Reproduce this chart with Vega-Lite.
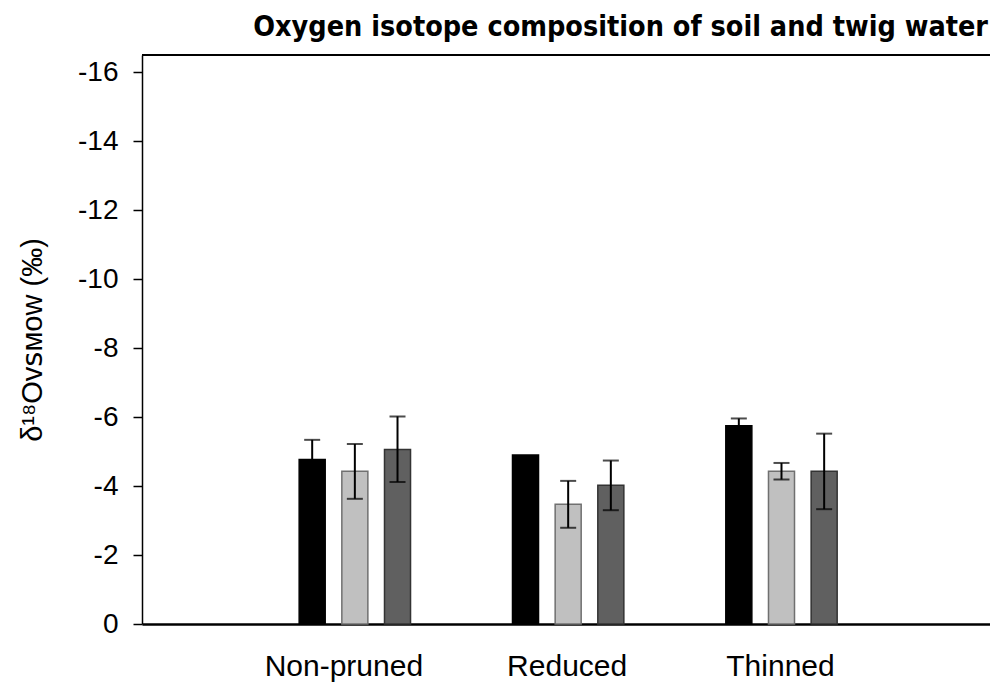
{
  "$schema": "https://vega.github.io/schema/vega-lite/v6.json",
  "autosize": {"type": "none"},
  "padding": {"left": 142, "top": 55, "right": 0, "bottom": 59},
  "width": 848,
  "height": 569,
  "background": "white",
  "config": {
    "view": {"stroke": null},
    "font": "Liberation Sans, Arial, DejaVu Sans"
  },
  "title": {
    "text": "Oxygen isotope composition of soil and twig water",
    "anchor": "end",
    "font": "Liberation Sans Narrow, DejaVu Sans Condensed, Liberation Sans",
    "fontSize": 28.5,
    "fontWeight": "bold",
    "color": "black",
    "baseline": "alphabetic",
    "offset": 22,
    "dy": 32,
    "dx": -3
  },
  "data": {
    "values": [
      {"treatment": "Non-pruned", "series": "Series 1", "value": -4.77, "lo": -4.20, "hi": -5.34},
      {"treatment": "Non-pruned", "series": "Series 2", "value": -4.43, "lo": -3.63, "hi": -5.22},
      {"treatment": "Non-pruned", "series": "Series 3", "value": -5.06, "lo": -4.12, "hi": -6.02},
      {"treatment": "Reduced", "series": "Series 1", "value": -4.90, "lo": null, "hi": null},
      {"treatment": "Reduced", "series": "Series 2", "value": -3.47, "lo": -2.79, "hi": -4.15},
      {"treatment": "Reduced", "series": "Series 3", "value": -4.02, "lo": -3.30, "hi": -4.74},
      {"treatment": "Thinned", "series": "Series 1", "value": -5.75, "lo": -5.54, "hi": -5.96},
      {"treatment": "Thinned", "series": "Series 2", "value": -4.43, "lo": -4.19, "hi": -4.67},
      {"treatment": "Thinned", "series": "Series 3", "value": -4.43, "lo": -3.33, "hi": -5.52}
    ]
  },
  "layer": [
    {
      "mark": {"type": "bar", "strokeWidth": 1.5},
      "encoding": {
        "x": {
          "field": "treatment",
          "type": "nominal",
          "sort": ["Non-pruned", "Reduced", "Thinned"],
          "scale": {"paddingInner": 0.478, "paddingOuter": 0.7266, "align": 0.507},
          "axis": {
            "title": null,
            "labelAngle": 0,
            "labelFontSize": 30,
            "labelColor": "black",
            "labelPadding": 27,
            "labelOffset": {"condition": {"test": "datum.value === 'Non-pruned'", "value": -11}, "value": -1},
            "ticks": false,
            "domainColor": "black",
            "domainWidth": 2.5
          }
        },
        "xOffset": {
          "field": "series",
          "type": "nominal",
          "scale": {"paddingInner": 0.39, "paddingOuter": 0}
        },
        "y": {
          "field": "value",
          "type": "quantitative",
          "scale": {"domain": [-16.5, 0], "reverse": true, "nice": false},
          "axis": {
            "values": [-16, -14, -12, -10, -8, -6, -4, -2, 0],
            "labelExpr": "datum.value == 0 ? '0' : '-' + abs(datum.value)",
            "labelFontSize": 28,
            "labelColor": "black",
            "labelPadding": 15,
            "tickSize": 9,
            "tickColor": "black",
            "tickWidth": 1.5,
            "domainColor": "black",
            "domainWidth": 1.5,
            "grid": false,
            "title": "δ¹⁸Oᴠꜱᴍᴏᴡ (‰)",
            "titleFontSize": 29,
            "titleFontWeight": "normal",
            "titleColor": "black",
            "titlePadding": 30
          }
        },
        "fill": {
          "field": "series",
          "type": "nominal",
          "scale": {"range": ["#000000", "#c0c0c0", "#606060"]},
          "legend": null
        },
        "stroke": {
          "field": "series",
          "type": "nominal",
          "scale": {"range": ["#000000", "#707070", "#333333"]},
          "legend": null
        }
      }
    },
    {
      "transform": [{"filter": "isValid(datum.lo)"}],
      "mark": {"type": "rule", "color": "black", "strokeWidth": 2},
      "encoding": {
        "x": {"field": "treatment", "type": "nominal", "sort": ["Non-pruned", "Reduced", "Thinned"]},
        "xOffset": {"field": "series", "type": "nominal"},
        "y": {"field": "lo", "type": "quantitative"},
        "y2": {"field": "hi"}
      }
    },
    {
      "transform": [
        {"filter": "isValid(datum.lo)"},
        {"fold": ["lo", "hi"], "as": ["bound", "bval"]}
      ],
      "mark": {"type": "tick", "color": "black", "size": 16, "thickness": 2},
      "encoding": {
        "x": {"field": "treatment", "type": "nominal", "sort": ["Non-pruned", "Reduced", "Thinned"]},
        "xOffset": {"field": "series", "type": "nominal"},
        "y": {"field": "bval", "type": "quantitative"}
      }
    },
    {
      "mark": {"type": "rule", "color": "black", "strokeWidth": 2},
      "encoding": {
        "y": {"datum": -16.5}
      }
    }
  ]
}
